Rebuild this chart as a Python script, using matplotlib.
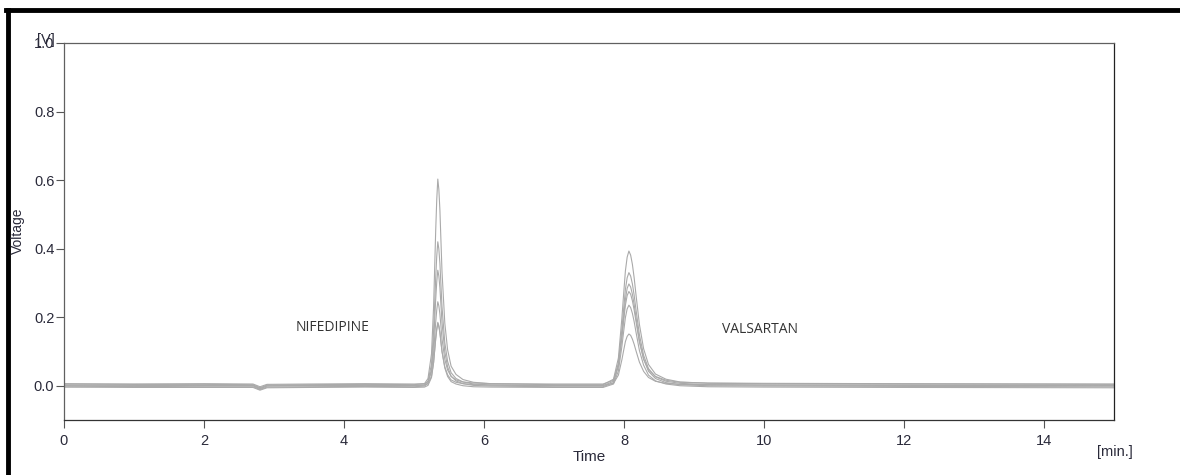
import numpy as np
import matplotlib
matplotlib.use("Agg")
import matplotlib.pyplot as plt
from matplotlib.lines import Line2D

plt.rcParams['font.family'] = ['Liberation Sans', 'DejaVu Sans']

# retention time grid [min]
time_min = [0, 1, 2, 2.7, 2.8, 2.9, 3.5, 4.3,
            5.0, 5.15, 5.2, 5.25, 5.28, 5.31, 5.325, 5.34, 5.355, 5.37, 5.385, 5.40, 5.44, 5.48, 5.53, 5.6, 5.7, 5.85, 6.1,
            7.0, 7.7, 7.85, 7.92, 7.97, 7.995, 8.02, 8.045, 8.07, 8.095, 8.12, 8.145, 8.17, 8.22, 8.28, 8.35, 8.45, 8.6, 8.8, 9.2,
            10, 12, 15]

# detector voltage [V], one list per injection
run_1 = [0.006, 0.004, 0.004, 0.003, -0.006, 0.002, 0.003, 0.004,
         0.003, 0.006, 0.021, 0.093, 0.231, 0.453, 0.543, 0.603, 0.573, 0.513, 0.423, 0.333, 0.183, 0.105, 0.057, 0.033, 0.018, 0.010, 0.006,
         0.003, 0.003, 0.019, 0.081, 0.198, 0.268, 0.335, 0.375, 0.393, 0.381, 0.354, 0.315, 0.268, 0.179, 0.108, 0.062, 0.034, 0.019, 0.011, 0.007,
         0.006, 0.005, 0.004]
run_2 = [0.002, 0.001, 0.000, 0.000, -0.009, -0.001, 0.000, 0.001,
         0.000, 0.002, 0.013, 0.063, 0.160, 0.315, 0.378, 0.420, 0.399, 0.357, 0.294, 0.231, 0.126, 0.071, 0.038, 0.021, 0.011, 0.005, 0.002,
         0.000, 0.000, 0.013, 0.066, 0.165, 0.224, 0.281, 0.315, 0.330, 0.320, 0.297, 0.264, 0.224, 0.149, 0.089, 0.050, 0.026, 0.013, 0.007, 0.003,
         0.002, 0.001, 0.000]
run_3 = [-0.003, -0.002, -0.003, -0.003, -0.011, -0.004, -0.003, -0.002,
         -0.003, -0.001, 0.007, 0.048, 0.126, 0.252, 0.303, 0.337, 0.320, 0.286, 0.235, 0.184, 0.099, 0.055, 0.028, 0.014, 0.006, 0.001, -0.001,
         -0.003, -0.003, 0.009, 0.057, 0.147, 0.201, 0.252, 0.284, 0.297, 0.288, 0.267, 0.237, 0.201, 0.132, 0.078, 0.042, 0.021, 0.009, 0.003, 0.000,
         -0.001, -0.002, -0.003]
run_4 = [0.005, 0.005, 0.006, 0.005, -0.003, 0.004, 0.005, 0.006,
         0.005, 0.006, 0.012, 0.041, 0.096, 0.185, 0.221, 0.245, 0.233, 0.209, 0.173, 0.137, 0.077, 0.046, 0.027, 0.017, 0.011, 0.008, 0.006,
         0.005, 0.005, 0.016, 0.059, 0.140, 0.189, 0.235, 0.263, 0.275, 0.267, 0.248, 0.221, 0.189, 0.127, 0.078, 0.046, 0.027, 0.016, 0.010, 0.008,
         0.007, 0.006, 0.005]
run_5 = [-0.004, -0.005, -0.005, -0.005, -0.013, -0.006, -0.005, -0.004,
         -0.005, -0.004, 0.001, 0.024, 0.067, 0.138, 0.166, 0.185, 0.176, 0.157, 0.128, 0.100, 0.052, 0.027, 0.012, 0.005, 0.000, -0.003, -0.004,
         -0.005, -0.005, 0.005, 0.043, 0.115, 0.158, 0.199, 0.224, 0.235, 0.228, 0.211, 0.187, 0.158, 0.103, 0.060, 0.031, 0.014, 0.005, 0.000, -0.003,
         -0.004, -0.005, -0.006]
run_6 = [0.001, 0.002, 0.001, 0.001, -0.008, 0.000, 0.001, 0.002,
         0.001, 0.002, 0.006, 0.028, 0.069, 0.136, 0.163, 0.181, 0.172, 0.154, 0.127, 0.100, 0.055, 0.032, 0.017, 0.010, 0.006, 0.003, 0.002,
         0.001, 0.001, 0.007, 0.031, 0.076, 0.103, 0.129, 0.144, 0.151, 0.147, 0.136, 0.121, 0.103, 0.069, 0.042, 0.024, 0.013, 0.007, 0.004, 0.003,
         0.002, 0.002, 0.001]
runs = [run_1, run_2, run_3, run_4, run_5, run_6]

x_ticks = [0, 2, 4, 6, 8, 10, 12, 14]
y_ticks = [0.0, 0.2, 0.4, 0.6, 0.8, 1.0]
peak_names = ["NIFEDIPINE", "VALSARTAN"]
peak_label_pos = [(3.83, 0.169), (9.94, 0.163)]

txt_col = '#2a2a3a'

fig = plt.figure(figsize=(11.8, 4.75), dpi=100)
ax = fig.add_axes([64/1180, 1-420/475, (1114-64)/1180, (420-43)/475])

for r in runs:
    ax.plot(time_min, r, color='#aaaaaa', lw=0.8)

for name, (px, py) in zip(peak_names, peak_label_pos):
    ax.text(px, py, name, ha='center', va='center', fontsize=10,
            family=['Open Sans', 'DejaVu Sans'], color='#333333')

ax.set_xlim(0, 15)
ax.set_ylim(-0.1, 1.0)
ax.set_xticks(x_ticks)
ax.set_xticklabels([str(v) for v in x_ticks])
ax.set_yticks(y_ticks)
ax.set_yticklabels(["%.1f" % v for v in y_ticks])
ax.tick_params(axis='both', direction='out', length=6, width=0.8, color='#555555',
               labelsize=10.5, labelcolor=txt_col, pad=1)
ax.tick_params(axis='x', pad=4)
for s in ax.spines.values():
    s.set_color('#606060')
    s.set_linewidth(0.9)
ax.spines['right'].set_color('#222222')
ax.spines['bottom'].set_color('#333333')

fig.text(589/1180, 1-457/475, "Time", ha='center', va='center', fontsize=11, color=txt_col)
fig.text(1115/1180, 1-452/475, "[min.]", ha='center', va='center', fontsize=10.5, color=txt_col)
fig.text(18/1180, 1-231/475, "Voltage", ha='center', va='center', rotation=90, fontsize=10, color=txt_col)
fig.text(46/1180, 1-40/475, "[V]", ha='center', va='center', fontsize=10.5, color=txt_col)

# black frame of the screenshot
fig.add_artist(Line2D([6/1180, 1.0], [1-10/475, 1-10/475], transform=fig.transFigure, color='black', lw=3.5))
fig.add_artist(Line2D([8/1180, 8/1180], [0.0, 1-10/475], transform=fig.transFigure, color='black', lw=3.5))

fig.savefig("out.png", dpi=100)
